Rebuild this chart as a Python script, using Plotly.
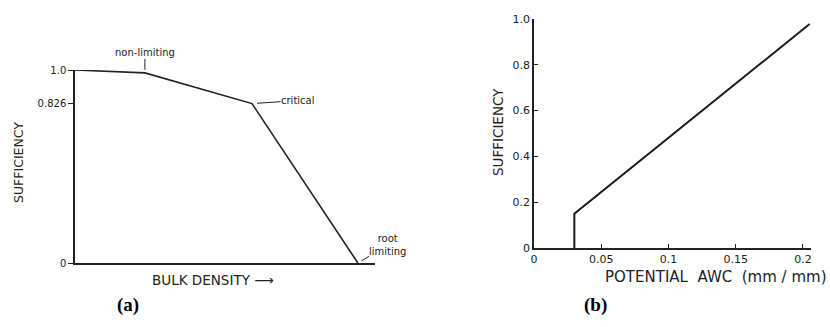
import plotly.graph_objects as go

# ---- data ----
# panel (a): sufficiency vs bulk density (no numeric x scale; relative positions)
bd_x = [0.0, 0.233, 0.59, 0.943]
bd_suff = [1.0, 0.985, 0.826, 0.0]
a_ytick_vals = [0.0, 0.826, 1.0]
a_ytick_text = ["0", "0.826", "1.0"]

# panel (b): sufficiency vs potential AWC
awc_x = [0.03, 0.03, 0.205]
awc_suff = [0.0, 0.15, 0.978]
b_xtick_vals = [0.0, 0.05, 0.1, 0.15, 0.2]
b_xtick_text = ["0", "0.05", "0.1", "0.15", "0.2"]
b_ytick_vals = [0.0, 0.2, 0.4, 0.6, 0.8, 1.0]
b_ytick_text = ["0", "0.2", "0.4", "0.6", "0.8", "1.0"]

W, H = 830, 327
INK = "#222222"
FONT = "DejaVu Sans"


def px(x):
    return x / W


def py(y):
    return 1 - y / H


fig = go.Figure()
fig.add_trace(go.Scatter(x=bd_x, y=bd_suff, mode="lines",
                         line=dict(color=INK, width=1.6),
                         xaxis="x", yaxis="y", showlegend=False, hoverinfo="skip"))
fig.add_trace(go.Scatter(x=awc_x, y=awc_suff, mode="lines",
                         line=dict(color="#1a1a1a", width=2),
                         xaxis="x2", yaxis="y2", showlegend=False, hoverinfo="skip"))

axis_common = dict(showgrid=False, zeroline=False, showline=True, automargin=False,
                   linecolor=INK, linewidth=1.5, tickcolor=INK,
                   tickfont=dict(family=FONT, size=11, color=INK))

fig.update_layout(
    width=W, height=H, autosize=False, margin=dict(l=0, r=0, t=0, b=0, pad=0),
    paper_bgcolor="white", plot_bgcolor="white",
    xaxis=dict(domain=[px(75), px(375)], range=[0, 1], anchor="y",
               showticklabels=False, ticks="", **axis_common),
    yaxis=dict(domain=[py(263), py(70)], range=[0, 1], anchor="x",
               tickvals=a_ytick_vals, ticktext=a_ytick_text,
               ticks="outside", ticklen=5, **{**axis_common, "tickfont": dict(family=FONT, size=10, color=INK)}),
    xaxis2=dict(domain=[px(534), px(811)], range=[0, 0.206], anchor="y2",
                tickvals=b_xtick_vals, ticktext=b_xtick_text,
                ticks="inside", ticklen=4, **axis_common),
    yaxis2=dict(domain=[py(248), py(19)], range=[0, 1], anchor="x2",
                tickvals=b_ytick_vals, ticktext=b_ytick_text,
                ticks="inside", ticklen=4, **axis_common),
)

note_font = dict(family=FONT, size=10, color=INK)
ann = []
# point labels on panel (a)
ann.append(dict(x=bd_x[1], y=bd_suff[1], xref="x", yref="y", text="non-limiting",
                showarrow=True, arrowhead=0, arrowwidth=1, arrowcolor=INK,
                ax=0, ay=-20, standoff=3, borderpad=0, font=note_font))
ann.append(dict(x=bd_x[2], y=bd_suff[2], xref="x", yref="y", text="critical",
                showarrow=True, arrowhead=0, arrowwidth=1, arrowcolor=INK,
                ax=46, ay=-3, standoff=5, borderpad=0, font=note_font))
ann.append(dict(x=bd_x[3], y=bd_suff[3], xref="x", yref="y", text="root<br>limiting",
                showarrow=True, arrowhead=0, arrowwidth=1, arrowcolor=INK,
                ax=30, ay=-18, standoff=4, borderpad=0, font=note_font))
# axis titles
ann.append(dict(x=px(150), y=py(280), xref="paper", yref="paper", text="BULK DENSITY ⟶",
                showarrow=False, xanchor="left", yanchor="middle",
                font=dict(family=FONT, size=13.5, color=INK)))
ann.append(dict(x=px(18), y=py(163), xref="paper", yref="paper", text="SUFFICIENCY",
                showarrow=False, textangle=-90, xanchor="center", yanchor="middle",
                font=dict(family=FONT, size=12.5, color=INK)))
ann.append(dict(x=px(603), y=py(277), xref="paper", yref="paper", text="POTENTIAL  AWC  (mm / mm)",
                showarrow=False, xanchor="left", yanchor="middle",
                font=dict(family=FONT, size=15, color=INK)))
ann.append(dict(x=px(498), y=py(132), xref="paper", yref="paper", text="SUFFICIENCY",
                showarrow=False, textangle=-90, xanchor="center", yanchor="middle",
                font=dict(family=FONT, size=13.5, color=INK)))
# panel letters
ann.append(dict(x=px(128), y=py(305), xref="paper", yref="paper", text="<b>(a)</b>",
                showarrow=False, xanchor="center", yanchor="middle",
                font=dict(family="Liberation Serif", size=19, color="black")))
ann.append(dict(x=px(595), y=py(305), xref="paper", yref="paper", text="<b>(b)</b>",
                showarrow=False, xanchor="center", yanchor="middle",
                font=dict(family="Liberation Serif", size=19, color="black")))
fig.update_layout(annotations=ann)

fig.write_html("out.html", config={"responsive": False, "displayModeBar": False},
               post_script="document.body.style.margin='0';document.body.style.overflow='hidden';")
